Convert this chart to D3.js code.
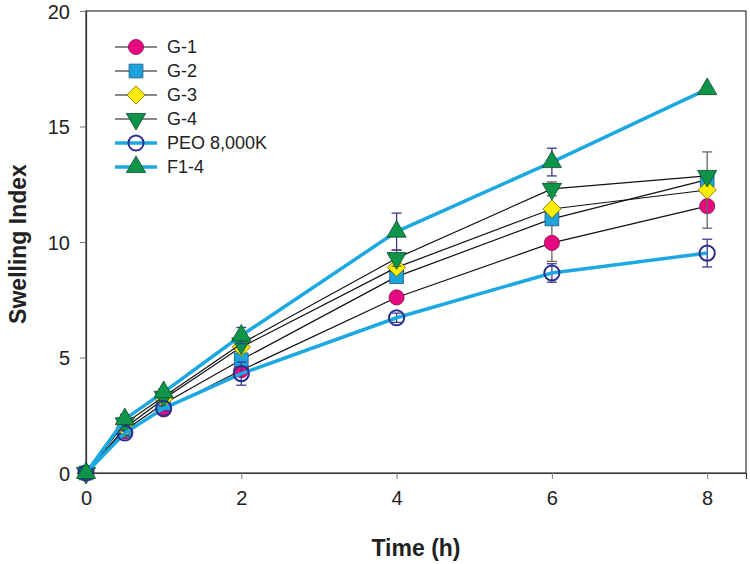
<!DOCTYPE html>
<html><head><meta charset="utf-8">
<script src="https://cdn.jsdelivr.net/npm/d3@7"></script>
<style>body{margin:0;background:#fff}svg{display:block;font-family:"Liberation Sans",Arial,sans-serif}</style>
</head><body><svg id="c" width="750" height="564"></svg>
<script>
const times = [0, 0.5, 1, 2, 4, 6, 8];
const seriesNames = ["G-1", "G-2", "G-3", "G-4", "PEO 8,000K", "F1-4"];
const g1 = [0, 1.8, 2.75, 4.45, 7.6, 9.96, 11.55];
const g2 = [0, 1.85, 3.0, 4.9, 8.5, 11.0, 12.7];
const g3 = [0, 1.95, 3.2, 5.45, 8.9, 11.43, 12.25];
const g4 = [0, 2.15, 3.3, 5.6, 9.3, 12.3, 12.86];
const peo = [0, 1.73, 2.8, 4.3, 6.72, 8.66, 9.52];
const f14 = [0, 2.33, 3.5, 5.95, 10.45, 13.46, 16.62];
const g1Err = [0, 0, 0, 0.15, 0.2, 0.8, 0];
const g2Err = [0, 0, 0, 0, 0, 0, 0];
const g3Err = [0, 0, 0, 0, 0, 0, 1.65];
const g4Err = [0, 0, 0, 0, 0.35, 0.3, 0];
const peoErr = [0, 0.1, 0.1, 0.5, 0.2, 0.4, 0.6];
const f14Err = [0, 0.2, 0.15, 0.35, 0.8, 0.6, 0.1];
const xTicks = [0, 2, 4, 6, 8];
const yTicks = [0, 5, 10, 15, 20];

const styles = [
  {sym: d3.symbolCircle, size: 180, fill: "#E6097F", stroke: "#8a0a4a", line: "#111", lw: 1.2, err: "#666"},
  {sym: d3.symbolSquare, size: 190, fill: "#1FA3DC", stroke: "#1a5a7a", line: "#111", lw: 1.2, err: "#666"},
  {sym: d3.symbolSquare, size: 165, fill: "#FFEE00", stroke: "#7a6a00", line: "#111", lw: 1.2, err: "#666", rot: 45},
  {sym: d3.symbolTriangle, size: 160, fill: "#0E9348", stroke: "#0a4a2a", line: "#111", lw: 1.2, err: "#666", rot: 180},
  {sym: d3.symbolCircle, size: 180, fill: "none", stroke: "#2B2F8F", sw: 2, line: "#1CA8E0", lw: 3.5, err: "#3a3a90"},
  {sym: d3.symbolTriangle, size: 160, fill: "#0F9549", stroke: "#0a4a2a", line: "#1CA8E0", lw: 3.5, err: "#3a3a90"}
];
const values = [g1, g2, g3, g4, peo, f14];
const errs = [g1Err, g2Err, g3Err, g4Err, peoErr, f14Err];

const svg = d3.select("#c");
const x = d3.scaleLinear().domain([0, 8.5]).range([86, 746]);
const y = d3.scaleLinear().domain([0, 20]).range([473, 11]);

svg.append("rect").attr("x", 86).attr("y", 11).attr("width", 660).attr("height", 462)
  .attr("fill", "none").attr("stroke", "#333").attr("stroke-width", 1.2);

const xa = svg.append("g").attr("transform", "translate(0,473)")
  .call(d3.axisBottom(x).tickValues(xTicks).tickSize(6).tickPadding(12).tickFormat(d3.format("d")));
const ya = svg.append("g").attr("transform", "translate(86,0)")
  .call(d3.axisLeft(y).tickValues(yTicks).tickSize(6).tickPadding(10).tickFormat(d3.format("d")));
[xa, ya].forEach(a => {
  a.select(".domain").attr("stroke", "#333").attr("stroke-width", 1.2);
  a.selectAll(".tick line").attr("stroke", "#777");
  a.selectAll("text").attr("font-size", 20).attr("fill", "#222").attr("font-family", "'Liberation Sans',Arial,sans-serif");
});
ya.selectAll("text").attr("dy", "0.35em");

svg.append("text").attr("x", 416).attr("y", 556).attr("text-anchor", "middle")
  .attr("font-size", 23).attr("font-weight", "bold").attr("fill", "#222").text("Time (h)");
svg.append("text").attr("transform", "translate(26,244) rotate(-90)").attr("text-anchor", "middle")
  .attr("font-size", 23).attr("font-weight", "bold").attr("fill", "#222").text("Swelling Index");

const line = d3.line().x(d => x(d[0])).y(d => y(d[1]));
const tf = (st, px, py) => `translate(${px},${py})` + (st.rot ? ` rotate(${st.rot})` : "");

values.forEach((vals, i) => {
  const st = styles[i];
  const pts = times.map((t, j) => [t, vals[j], errs[i][j]]);
  const g = svg.append("g");
  pts.filter(p => p[2] > 0).forEach(p => {
    const eb = g.append("g").attr("stroke", st.err).attr("stroke-width", 1.3);
    eb.append("line").attr("x1", x(p[0])).attr("x2", x(p[0])).attr("y1", y(p[1] - p[2])).attr("y2", y(p[1] + p[2]));
    [p[1] - p[2], p[1] + p[2]].forEach(v => eb.append("line")
      .attr("x1", x(p[0]) - 5).attr("x2", x(p[0]) + 5).attr("y1", y(v)).attr("y2", y(v)));
  });
  g.append("path").datum(pts).attr("d", line).attr("fill", "none")
    .attr("stroke", st.line).attr("stroke-width", st.lw);
  g.selectAll("path.m").data(pts).join("path").attr("class", "m")
    .attr("d", d3.symbol().type(st.sym).size(st.size))
    .attr("transform", d => tf(st, x(d[0]), y(d[1])))
    .attr("fill", st.fill).attr("stroke", st.stroke).attr("stroke-width", st.sw || 0.8);
});

const lg = svg.append("g");
seriesNames.forEach((name, i) => {
  const st = styles[i];
  const yy = 47 + i * 24;
  lg.append("line").attr("x1", 115).attr("x2", 157).attr("y1", yy).attr("y2", yy)
    .attr("stroke", st.line).attr("stroke-width", st.lw);
  lg.append("path").attr("d", d3.symbol().type(st.sym).size(st.size))
    .attr("transform", tf(st, 136, yy))
    .attr("fill", st.fill).attr("stroke", st.stroke).attr("stroke-width", st.sw || 0.8);
  lg.append("text").attr("x", 167).attr("y", yy).attr("dy", "0.35em")
    .attr("font-size", 18).attr("fill", "#222").text(name);
});
</script></body></html>
